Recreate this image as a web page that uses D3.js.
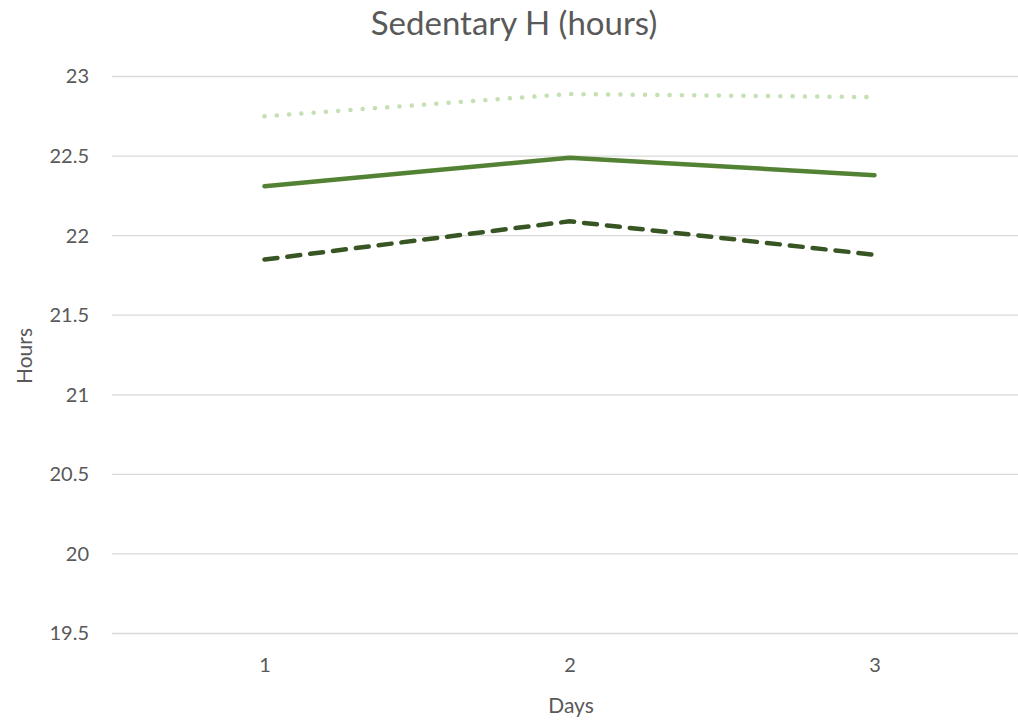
<!DOCTYPE html>
<html>
<head>
<meta charset="utf-8">
<script src="https://cdn.jsdelivr.net/npm/d3@7"></script>
<style>
  body { margin: 0; background: #fff; }
  text { font-family: Lato, "Open Sans", sans-serif; fill: #595959; }
</style>
</head>
<body>
<div id="chart"></div>
<script>
const width = 1018;
const height = 721;

const days = ['1', '2', '3'];
const upperValues = [22.75, 22.89, 22.87];
const meanValues = [22.31, 22.49, 22.38];
const lowerValues = [21.85, 22.09, 21.88];
const yTicks = [19.5, 20, 20.5, 21, 21.5, 22, 22.5, 23];

const series = [
    {name: 'upper', values: upperValues, color: '#c5e0b4', dash: '0.1 12.2'},
    {name: 'mean', values: meanValues, color: '#548235', dash: null},
    {name: 'lower', values: lowerValues, color: '#375623', dash: '13 10'}
];

const plot = {left: 112, right: 1027, top: 76.5, bottom: 633.5};

const svg = d3.select('#chart')
    .append('svg')
    .attr('width', width)
    .attr('height', height);

const x = d3.scalePoint()
    .domain(days)
    .range([plot.left, plot.right])
    .padding(0.5);

const y = d3.scaleLinear()
    .domain([19.5, 23])
    .range([plot.bottom, plot.top]);

// gridlines
svg.append('g')
    .selectAll('line')
    .data(yTicks)
    .enter()
    .append('line')
    .attr('x1', plot.left)
    .attr('x2', width)
    .attr('y1', d => y(d))
    .attr('y2', d => y(d))
    .style('stroke', '#d9d9d9')
    .style('stroke-width', 1.3);

// y axis labels
const yAxis = svg.append('g')
    .attr('transform', `translate(${plot.left - 23},0)`)
    .call(d3.axisLeft(y).tickValues(yTicks).tickSize(0).tickPadding(0).tickFormat(d3.format('')));
yAxis.select('.domain').remove();
yAxis.selectAll('text').style('font-size', '20px').style('fill', '#595959');

// x axis labels
const xAxis = svg.append('g')
    .attr('transform', 'translate(0,672)')
    .call(d3.axisBottom(x).tickSize(0).tickPadding(0));
xAxis.select('.domain').remove();
xAxis.selectAll('text')
    .attr('y', 0)
    .attr('dy', null)
    .style('font-size', '20px')
    .style('fill', '#595959');

const line = d3.line()
    .x((d, i) => x(days[i]))
    .y(d => y(d));

svg.append('g')
    .selectAll('path')
    .data(series)
    .enter()
    .append('path')
    .attr('d', d => line(d.values))
    .style('fill', 'none')
    .style('stroke', d => d.color)
    .style('stroke-width', 4.5)
    .style('stroke-linecap', 'round')
    .style('stroke-linejoin', 'round')
    .style('stroke-dasharray', d => d.dash);

// title
svg.append('text')
    .attr('x', 514)
    .attr('y', 35)
    .attr('text-anchor', 'middle')
    .style('font-size', '33px')
    .text('Sedentary H (hours)');

// axis titles
svg.append('text')
    .attr('x', 571)
    .attr('y', 713)
    .attr('text-anchor', 'middle')
    .style('font-size', '21px')
    .text('Days');

svg.append('text')
    .attr('transform', 'translate(32,356) rotate(-90)')
    .attr('text-anchor', 'middle')
    .style('font-size', '21px')
    .text('Hours');
</script>
</body>
</html>
